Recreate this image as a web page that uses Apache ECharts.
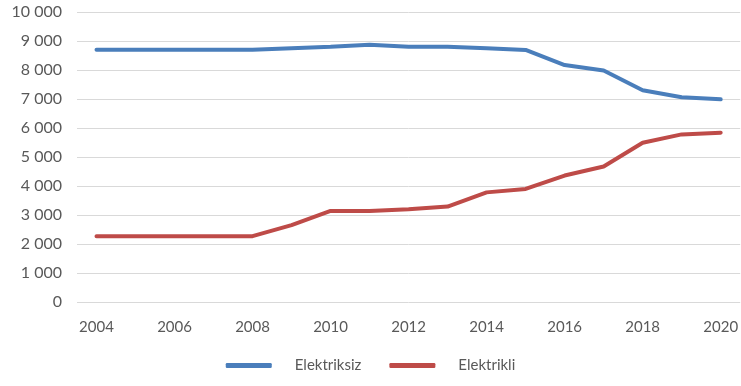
<!DOCTYPE html>
<html><head><meta charset="utf-8">
<script src="https://cdn.jsdelivr.net/npm/echarts@6/dist/echarts.min.js"></script>
<style>html,body{margin:0;padding:0;background:#fff}#c{width:741px;height:386px}</style>
</head><body><div id="c"></div>
<script>
const years = ['2004','2005','2006','2007','2008','2009','2010','2011','2012','2013','2014','2015','2016','2017','2018','2019','2020'];
const elektriksiz = [8700,8700,8700,8700,8700,8750,8800,8870,8800,8800,8750,8690,8170,7980,7300,7060,6990];
const elektrikli = [2270,2270,2270,2270,2270,2650,3140,3140,3200,3290,3780,3900,4360,4670,5490,5780,5840];
const yTicks = [0,1000,2000,3000,4000,5000,6000,7000,8000,9000,10000];
const blue = '#4a7ebb', red = '#be4b48';
const chart = echarts.init(document.getElementById('c'));
chart.setOption({
  animation:false,
  grid:{left:77,right:-2,top:12,bottom:84,containLabel:false},
  legend:{
    bottom:8,left:'center',itemWidth:46,itemHeight:5,itemGap:28,
    textStyle:{color:'#595959',fontSize:15,fontFamily:'Lato',padding:[0,0,0,18]},
    data:[{name:'Elektriksiz',icon:'roundRect'},{name:'Elektrikli',icon:'roundRect'}]
  },
  xAxis:{type:'category',data:years,boundaryGap:true,
    axisLine:{show:false},axisTick:{show:false},
    axisLabel:{interval:1,color:'#595959',fontSize:15,fontFamily:'Lato',margin:18}},
  yAxis:{type:'value',min:yTicks[0],max:yTicks[yTicks.length-1],interval:1000,
    axisLabel:{color:'#595959',fontSize:16,fontFamily:'Lato',margin:15,
      formatter:v=>String(v).replace(/\B(?=(\d{3})+(?!\d))/g,' ')},
    splitLine:{lineStyle:{color:'#d9d9d9',width:1}}},
  series:[
    {name:'Elektriksiz',type:'line',data:elektriksiz,symbol:'none',color:blue,lineStyle:{width:4,color:blue,cap:'round'}},
    {name:'Elektrikli',type:'line',data:elektrikli,symbol:'none',color:red,lineStyle:{width:4,color:red,cap:'round'}}
  ]
});
</script></body></html>
